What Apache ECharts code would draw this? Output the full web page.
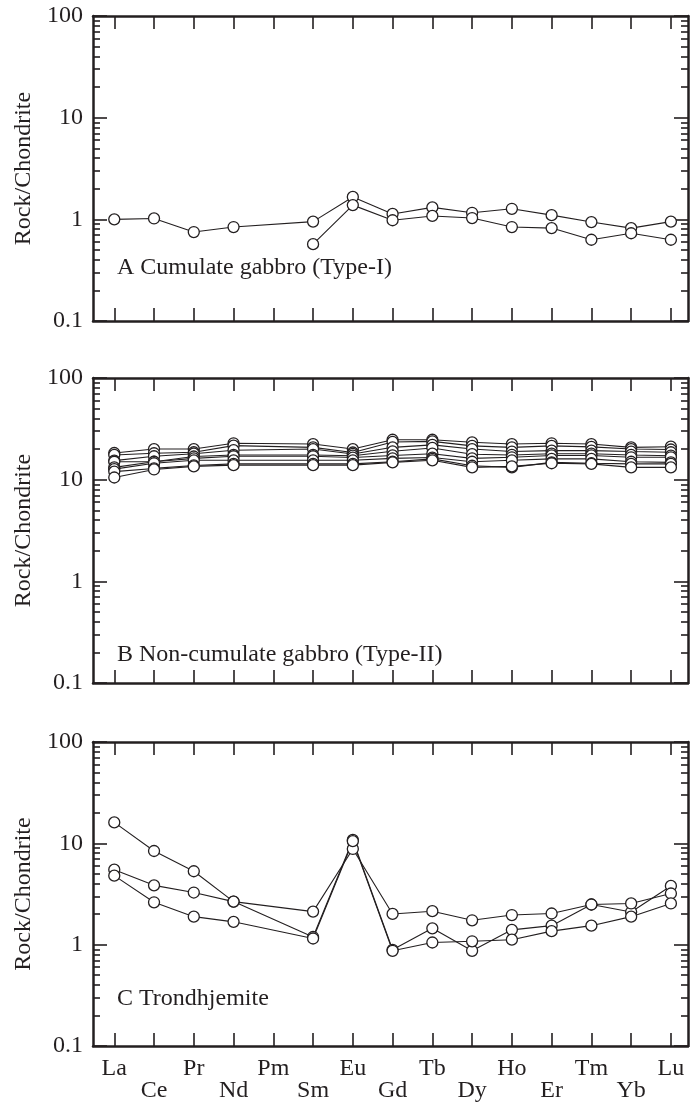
<!DOCTYPE html>
<html>
<head>
<meta charset="utf-8">
<script src="https://cdn.jsdelivr.net/npm/echarts@6/dist/echarts.min.js"></script>
<style>
  html, body { margin: 0; padding: 0; background: #fff; }
  #chart { width: 690px; height: 1105px; }
</style>
</head>
<body>
<div id="chart"></div>
<script>
// REE order on the x axis
var elements = ['La', 'Ce', 'Pr', 'Nd', 'Pm', 'Sm', 'Eu', 'Gd', 'Tb', 'Dy', 'Ho', 'Er', 'Tm', 'Yb', 'Lu'];
var yTickValues = [0.1, 1, 10, 100];
var yTickLabels = ['0.1', '1', '10', '100'];
var yMinorValues = [0.2, 0.3, 0.4, 0.5, 0.6, 0.7, 0.8, 0.9, 2, 3, 4, 5, 6, 7, 8, 9, 20, 30, 40, 50, 60, 70, 80, 90];

var panelTitles = ['A Cumulate gabbro (Type-I)', 'B Non-cumulate gabbro (Type-II)', 'C Trondhjemite'];

// chondrite-normalised values, null = not analysed (Pm)
var cumulateGabbro = [
    [1.0, 1.02, 0.75, 0.84, null, 0.95, 1.66, 1.13, 1.31, 1.16, 1.27, 1.10, 0.94, 0.82, 0.95],
    [null, null, null, null, null, 0.57, 1.38, 0.98, 1.08, 1.03, 0.84, 0.82, 0.63, 0.73, 0.63]
];

var nonCumulateGabbro = [
    [18.3, 20.0, 20.0, 22.8, null, 22.4, 20.0, 24.7, 24.7, 23.3, 22.4, 22.8, 22.4, 20.8, 21.1],
    [17.5, 18.2, 18.6, 21.6, null, 20.8, 18.5, 23.5, 23.8, 21.5, 20.8, 21.5, 21.0, 20.0, 19.8],
    [15.4, 17.0, 18.0, 19.5, null, 20.0, 17.9, 20.8, 22.0, 20.0, 18.9, 19.3, 19.3, 18.9, 18.6],
    [15.0, 15.0, 16.9, 17.5, null, 17.5, 17.2, 19.0, 20.5, 17.8, 17.5, 18.0, 18.0, 17.5, 17.2],
    [13.2, 15.0, 16.2, 17.0, null, 17.0, 16.5, 17.3, 18.0, 16.2, 16.6, 17.3, 17.3, 16.6, 16.6],
    [12.7, 14.5, 15.5, 15.5, null, 15.5, 15.5, 16.2, 16.5, 15.0, 15.5, 16.0, 16.0, 15.0, 14.8],
    [12.0, 12.9, 13.8, 14.3, null, 14.3, 14.3, 15.0, 16.0, 13.7, 13.2, 14.8, 14.5, 14.3, 14.3],
    [10.5, 12.6, 13.5, 13.9, null, 13.9, 13.9, 14.8, 15.5, 13.2, 13.5, 14.5, 14.3, 13.2, 13.2]
];

var trondhjemite = [
    [16.1, 8.4, 5.3, 2.66, null, 1.19, 10.8, 0.89, 1.45, 0.87, 1.40, 1.54, 2.49, 2.10, 3.8],
    [5.5, 3.85, 3.27, 2.66, null, 2.12, 8.8, 2.01, 2.14, 1.74, 1.96, 2.03, 2.49, 2.55, 3.2],
    [4.8, 2.62, 1.89, 1.68, null, 1.15, 10.5, 0.87, 1.05, 1.08, 1.12, 1.36, 1.54, 1.89, 2.55]
];

var panels = [cumulateGabbro, nonCumulateGabbro, trondhjemite];

var ink = '#231f20';
var serif = '"Liberation Serif", "DejaVu Serif", serif';
var X_MIN = 0.465, X_MAX = 15.43;
var Y_MIN = 0.1, Y_MAX = 100;

// grid boxes (px)
var boxes = [
    { top: 16, height: 305 },
    { top: 378, height: 305 },
    { top: 742, height: 304 }
];
var titleTops = [256, 643, 987];

var xTickValues = elements.map(function (e, i) { return i + 1; });
// keep end labels just inside the log extent
var yLabelValues = yTickValues.map(function (v) {
    return Math.min(Math.max(v, Y_MIN * 1.0001), Y_MAX * 0.9999);
});

var chart = echarts.init(document.getElementById('chart'));

var grids = [], xAxes = [], yAxes = [], series = [], titles = [];

boxes.forEach(function (b, g) {
    grids.push({ left: 93, width: 595, top: b.top, height: b.height, outerBoundsMode: 'none', containLabel: false });

    ['bottom', 'top'].forEach(function (pos) {
        xAxes.push({
            gridIndex: g,
            type: 'value',
            position: pos,
            min: X_MIN,
            max: X_MAX,
            axisLine: { show: true, onZero: false, lineStyle: { color: ink, width: 2.5 } },
            axisTick: { show: true, inside: true, length: 13, customValues: xTickValues, lineStyle: { color: ink, width: 1.6 } },
            axisLabel: {
                show: g === 2 && pos === 'bottom',
                customValues: xTickValues,
                margin: 12,
                fontFamily: serif,
                fontSize: 24,
                lineHeight: 22,
                color: ink,
                formatter: function (v) {
                    var i = Math.round(v) - 1;
                    return i % 2 === 0 ? elements[i] : '\n' + elements[i];
                }
            },
            splitLine: { show: false }
        });
    });

    ['left', 'right'].forEach(function (pos) {
        // major ticks + labels
        yAxes.push({
            gridIndex: g,
            type: 'log',
            logBase: 10,
            min: Y_MIN,
            max: Y_MAX,
            position: pos,
            name: pos === 'left' ? 'Rock/Chondrite' : '',
            nameLocation: 'middle',
            nameRotate: 90,
            nameGap: 56,
            nameTextStyle: { fontFamily: serif, fontSize: 24, color: ink },
            axisLine: { show: true, onZero: false, lineStyle: { color: ink, width: 2.5 } },
            axisTick: { show: true, inside: true, length: 14, customValues: yLabelValues, lineStyle: { color: ink, width: 1.6 } },
            axisLabel: {
                show: pos === 'left',
                customValues: yLabelValues,
                margin: 10,
                fontFamily: serif,
                fontSize: 24,
                color: ink,
                formatter: function (v) {
                    return yTickLabels[Math.round(Math.log10(v)) + 1];
                }
            },
            splitLine: { show: false }
        });
        // minor ticks
        yAxes.push({
            gridIndex: g,
            type: 'log',
            logBase: 10,
            min: Y_MIN,
            max: Y_MAX,
            position: pos,
            axisLine: { show: false },
            axisTick: { show: true, inside: true, length: 7, customValues: yMinorValues, lineStyle: { color: ink, width: 1.6 } },
            axisLabel: { show: false },
            splitLine: { show: false }
        });
    });

    panels[g].forEach(function (row) {
        series.push({
            type: 'line',
            xAxisIndex: g * 2,
            yAxisIndex: g * 4,
            data: row.map(function (v, i) { return [i + 1, v]; })
                     .filter(function (p) { return p[1] != null; }),
            symbol: 'circle',
            symbolSize: 11,
            showSymbol: true,
            itemStyle: { color: '#fff', borderColor: ink, borderWidth: 1.3 },
            lineStyle: { color: ink, width: 1.1 },
            silent: true
        });
    });

    titles.push({
        text: panelTitles[g],
        left: 117,
        top: titleTops[g],
        padding: 0,
        textStyle: { fontFamily: serif, fontSize: 24, fontWeight: 'normal', color: ink }
    });
});

chart.setOption({
    animation: false,
    backgroundColor: '#fff',
    title: titles,
    grid: grids,
    xAxis: xAxes,
    yAxis: yAxes,
    series: series
});

window.addEventListener('resize', chart.resize);
</script>
</body>
</html>
